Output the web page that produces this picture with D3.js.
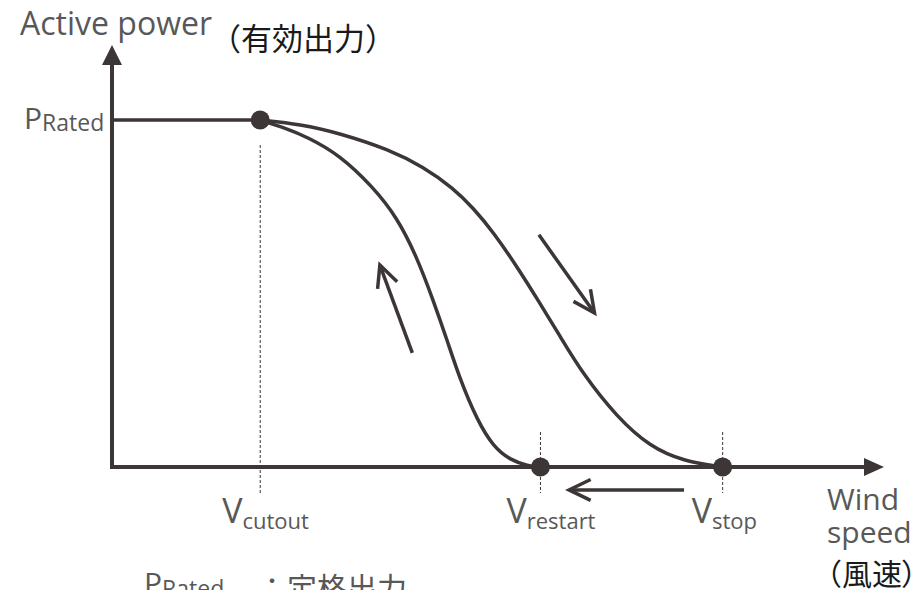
<!DOCTYPE html>
<html>
<head>
<meta charset="utf-8">
<script src="https://cdn.jsdelivr.net/npm/d3@7"></script>
<style>
  html, body { margin: 0; padding: 0; background: #ffffff; }
  svg { display: block; }
</style>
</head>
<body>
<svg id="chart" width="922" height="590"></svg>
<script>
// ---------- data (wind speed in % of axis, power in p.u. of P_Rated) ----------
const speedKeys   = ["cutout", "restart", "stop"];
const speedValues = [19.2, 55.5, 79.1];

// rated plateau before cut-out
const ratedSpeed  = [0, 19.2];
const ratedPower  = [1, 1];

// power reduction when wind increases (outer curve, towards V_stop)
const stopSpeed = [19.2, 24.4, 29.5, 36.0, 40.3, 44.2, 46.8, 49.4, 52.5, 55.4, 58.0, 61.0, 65.4, 69.7, 74.0, 79.0];
const stopPower = [1.000, 0.988, 0.962, 0.914, 0.865, 0.804, 0.746, 0.677, 0.576, 0.473, 0.378, 0.268, 0.144, 0.058, 0.017, 0.000];

// power recovery when wind decreases (inner curve, from V_restart)
const restartSpeed = [19.2, 22.4, 25.3, 29.5, 33.8, 36.9, 39.5, 41.6, 43.4, 45.1, 47.3, 49.4, 51.6, 53.9, 55.4];
const restartPower = [1.000, 0.977, 0.951, 0.899, 0.807, 0.720, 0.605, 0.481, 0.366, 0.251, 0.135, 0.058, 0.020, 0.003, 0.000];

// direction arrows: [tailSpeed, tailPower, tipSpeed, tipPower]
const arrowUp    = [38.9, 0.329, 34.7, 0.582];
const arrowDown  = [55.3, 0.669, 62.5, 0.444];
const arrowLeft  = [74.1, -0.066, 59.2, -0.066];

// axis extents
const xMax = 100;      // end of the wind-speed axis (arrow tip)
const yMax = 1.216;    // end of the power axis (arrow tip)

// text
const yTitle    = "Active power";
const yTitleJa  = "（有効出力）";
const xTitle    = ["Wind", "speed"];
const xTitleJa  = ["（風速", "）"];
const ratedMain = "P";
const ratedSub  = "Rated";
const noteJa    = "：定格出力";

// ---------- drawing ----------
const svg = d3.select("#chart");
const ink = "#3d3636";
const textGray = "#585858";
const latin = "'Open Sans', 'Noto Sans', sans-serif";
const cjk = "'Noto Sans CJK JP', sans-serif";

const x = d3.scaleLinear().domain([0, xMax]).range([112, 884]);
const y = d3.scaleLinear().domain([0, 1]).range([467, 120]);

// axes
const g = svg.append("g");
g.append("line")
  .attr("x1", x(0)).attr("y1", y(0) + 2)
  .attr("x2", x(0)).attr("y2", y(yMax) + 18)
  .attr("stroke", ink).attr("stroke-width", 4);
g.append("line")
  .attr("x1", x(0) - 2).attr("y1", y(0))
  .attr("x2", x(xMax) - 18).attr("y2", y(0))
  .attr("stroke", ink).attr("stroke-width", 4);
// arrowheads (filled triangles)
g.append("path")
  .attr("d", `M${x(0)},${y(yMax)} L${x(0) - 10},${y(yMax) + 20} L${x(0) + 10},${y(yMax) + 20} Z`)
  .attr("fill", ink);
g.append("path")
  .attr("d", `M${x(xMax)},${y(0)} L${x(xMax) - 20},${y(0) - 9} L${x(xMax) - 20},${y(0) + 9} Z`)
  .attr("fill", ink);

// dashed guide lines
const dashTop = { cutout: y(1) + 25, restart: y(0) - 35, stop: y(0) - 35 };
speedKeys.forEach((k, i) => {
  g.append("line")
    .attr("x1", x(speedValues[i])).attr("x2", x(speedValues[i]))
    .attr("y1", dashTop[k]).attr("y2", y(0) + 26)
    .attr("stroke", ink).attr("stroke-width", 1)
    .attr("stroke-dasharray", "3,2");
});

// curves
const line = d3.line().x(d => x(d[0])).y(d => y(d[1])).curve(d3.curveBasis);
const zipPts = (a, b) => a.map((v, i) => [v, b[i]]);

g.append("path").datum(zipPts(ratedSpeed, ratedPower))
  .attr("d", d3.line().x(d => x(d[0])).y(d => y(d[1])))
  .attr("fill", "none").attr("stroke", ink).attr("stroke-width", 3.5);
g.append("path").datum(zipPts(stopSpeed, stopPower))
  .attr("d", line).attr("fill", "none").attr("stroke", ink)
  .attr("stroke-width", 3.5).attr("stroke-linecap", "round");
g.append("path").datum(zipPts(restartSpeed, restartPower))
  .attr("d", line).attr("fill", "none").attr("stroke", ink)
  .attr("stroke-width", 3.5).attr("stroke-linecap", "round");

// dots
const dotPts = [[speedValues[0], 1], [speedValues[1], 0], [speedValues[2], 0]];
g.selectAll("circle.dot").data(dotPts).join("circle")
  .attr("class", "dot")
  .attr("cx", d => x(d[0])).attr("cy", d => y(d[1]))
  .attr("r", 9.5).attr("fill", ink);

// direction arrows (open chevrons)
function drawArrow(a) {
  const x1 = x(a[0]), y1 = y(a[1]), x2 = x(a[2]), y2 = y(a[3]);
  const ang = Math.atan2(y1 - y2, x1 - x2);
  const L = 24, spread = 0.45;
  const p1 = [x2 + L * Math.cos(ang + spread), y2 + L * Math.sin(ang + spread)];
  const p2 = [x2 + L * Math.cos(ang - spread), y2 + L * Math.sin(ang - spread)];
  g.append("line").attr("x1", x1).attr("y1", y1).attr("x2", x2).attr("y2", y2)
    .attr("stroke", ink).attr("stroke-width", 3.5);
  g.append("path").attr("d", `M${p1[0]},${p1[1]} L${x2},${y2} L${p2[0]},${p2[1]}`)
    .attr("fill", "none").attr("stroke", ink).attr("stroke-width", 3.5)
    .attr("stroke-linejoin", "miter");
}
[arrowUp, arrowDown, arrowLeft].forEach(drawArrow);

// ---------- texts ----------
// y title
svg.append("text").attr("x", 20).attr("y", 35)
  .attr("font-family", latin).attr("font-size", 32).attr("fill", textGray)
  .text(yTitle);
svg.append("text").attr("x", 210).attr("y", 50)
  .attr("font-family", cjk).attr("font-size", 31).attr("fill", "#1a1a1a")
  .text(yTitleJa);

// P_Rated label on y axis
const pr = svg.append("text").attr("x", 24).attr("y", y(1) + 9)
  .attr("font-family", latin).attr("fill", textGray);
pr.append("tspan").attr("font-size", 30).text(ratedMain);
pr.append("tspan").attr("font-size", 23).attr("dy", 2).text(ratedSub);

// speed labels
const labelShift = { cutout: -38, restart: -34, stop: -31 };
speedKeys.forEach((k, i) => {
  const t = svg.append("text")
    .attr("x", x(speedValues[i]) + labelShift[k])
    .attr("y", 523)
    .attr("font-family", latin).attr("fill", textGray);
  t.append("tspan").attr("font-size", 34).text("V");
  t.append("tspan").attr("font-size", 22).attr("dy", 6).text(k);
});

// x title
svg.append("text").attr("x", 827).attr("y", 510)
  .attr("font-family", latin).attr("font-size", 30).attr("fill", textGray)
  .text(xTitle[0]);
svg.append("text").attr("x", 827).attr("y", 543)
  .attr("font-family", latin).attr("font-size", 30).attr("fill", textGray)
  .text(xTitle[1]);
const xj = svg.append("text").attr("x", 812).attr("y", 585)
  .attr("font-family", cjk).attr("font-size", 30).attr("fill", "#1a1a1a");
xj.append("tspan").text(xTitleJa[0]);
xj.append("tspan").style("font-feature-settings", "'palt'").text(xTitleJa[1]);

// note (cut at bottom)
const note = svg.append("text").attr("x", 144).attr("y", 594)
  .attr("font-family", latin).attr("fill", textGray);
note.append("tspan").attr("font-size", 30).text(ratedMain);
note.append("tspan").attr("font-size", 23).attr("dy", 3).text(ratedSub);
svg.append("text").attr("x", 257).attr("y", 599)
  .attr("font-family", cjk).attr("font-size", 30).attr("fill", textGray)
  .text(noteJa);
</script>
</body>
</html>
